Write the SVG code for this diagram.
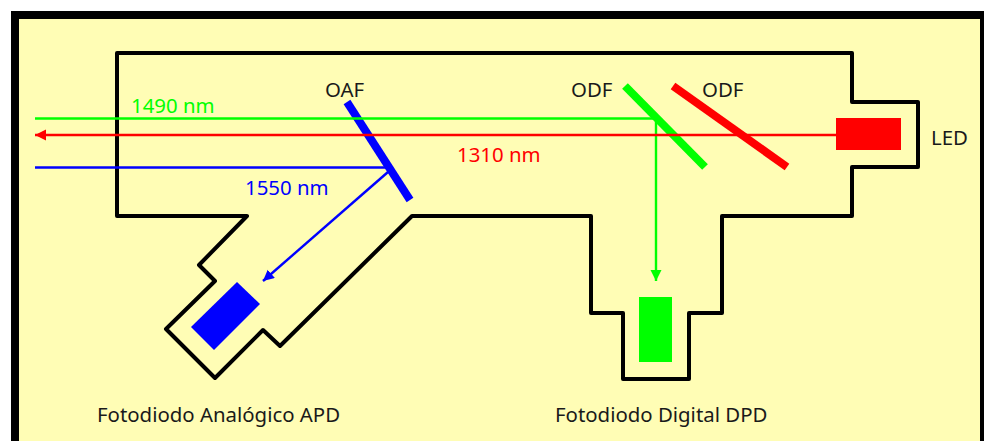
<svg xmlns="http://www.w3.org/2000/svg" width="984" height="441" viewBox="0 0 984 441">
<style>
text{font-family:"Noto Sans","Open Sans","DejaVu Sans",sans-serif;font-size:20.4px;fill:#1a1a1a}
.beam{fill:none;stroke-width:2.4}
.mirror{fill:none;stroke-width:8}
</style>
<defs>
<marker id="ar" markerUnits="userSpaceOnUse" markerWidth="12" markerHeight="12" refX="11" refY="5.5" orient="auto"><path d="M0 0L11 5.5L0 11Z" fill="#f00"/></marker>
<marker id="ag" markerUnits="userSpaceOnUse" markerWidth="12" markerHeight="12" refX="11" refY="5.5" orient="auto"><path d="M0 0L11 5.5L0 11Z" fill="#0f0"/></marker>
<marker id="ab" markerUnits="userSpaceOnUse" markerWidth="12" markerHeight="12" refX="11" refY="5.5" orient="auto"><path d="M0 0L11 5.5L0 11Z" fill="#00f"/></marker>
</defs>
<rect width="984" height="441" fill="#fff"/>
<rect x="15" y="15" width="969" height="440" fill="#fffdb5" stroke="#000" stroke-width="8"/>
<rect x="980" y="11" width="4" height="430" fill="#000"/>
<g id="housing"><path d="M117 53H852V102H918V167H852V216H722V313H689V379H623V313H591V216H412L280 346L263 330L215 378L166 329L215 281L199 265L247 216H117Z" fill="none" stroke="#000" stroke-width="4" stroke-linejoin="round"/></g>
<g id="oaf"><path class="mirror" stroke="#00f" d="M347 102L410 200"/><text x="325" y="97">OAF</text></g>
<g id="odf-green"><path class="mirror" stroke="#0f0" d="M625 86L705 167"/><text x="571" y="97">ODF</text></g>
<g id="odf-red"><path class="mirror" stroke="#f00" stroke-width="7" d="M673 86L787 167"/><text x="702" y="97">ODF</text></g>
<g id="led"><rect x="836" y="118" width="65" height="32" fill="#f00"/><text x="931" y="145">LED</text></g>
<g id="apd"><path d="M237 282L260 304L214 350L191 327Z" fill="#00f"/><text x="97" y="422">Fotodiodo Analógico APD</text></g>
<g id="dpd"><rect x="639" y="297" width="33" height="65" fill="#0f0"/><text x="555" y="422">Fotodiodo Digital DPD</text></g>
<g id="connectors">
<path class="beam" stroke="#0f0" d="M35 118.5H656"/>
<path class="beam" stroke="#0f0" marker-end="url(#ag)" d="M656 118.5V281"/>
<path class="beam" stroke="#f00" marker-end="url(#ar)" d="M836 135H35"/>
<path class="beam" stroke="#00f" d="M35 167.5H388"/>
<path class="beam" stroke="#00f" marker-end="url(#ab)" d="M388 172L263 281"/>
</g>
<text x="131" y="113" style="fill:#0f0">1490 nm</text>
<text x="457" y="162" style="fill:#f00">1310 nm</text>
<text x="245" y="195" style="fill:#00f">1550 nm</text>
</svg>
